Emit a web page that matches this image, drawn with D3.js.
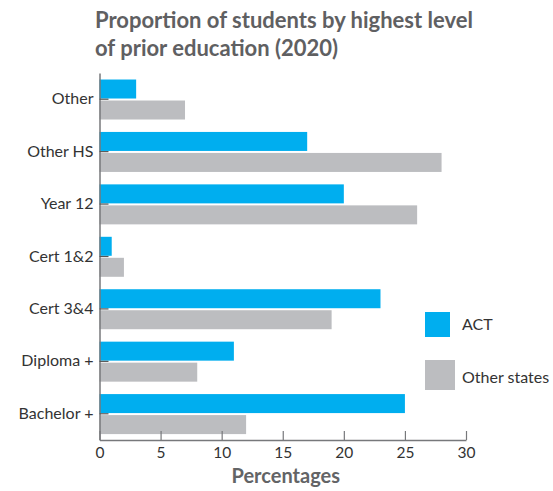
<!DOCTYPE html>
<html><head><meta charset="utf-8">
<script src="https://cdn.jsdelivr.net/npm/d3@7"></script>
<style>body{margin:0;background:#fff;} text{font-family:"Source Sans Pro","Lato","Noto Sans",sans-serif;}</style>
</head><body>
<svg id="c" width="553" height="491"></svg>
<script>
const categories = ["Other","Other HS","Year 12","Cert 1&2","Cert 3&4","Diploma +","Bachelor +"];
const actValues = [3,17,20,1,23,11,25];
const otherValues = [7,28,26,2,19,8,12];
const seriesNames = ["ACT","Other states"];
const xTicks = [0,5,10,15,20,25,30];

(function(){
const colors = {"ACT":"#00AEEF","Other states":"#BCBDC0"};
const svg = d3.select("#c");
const mLeft = 99.5, mRight = 466, mTop = 73, mBottom = 440;
const x = d3.scaleLinear().domain([0,30]).range([mLeft,mRight]);
const y = d3.scaleBand().domain(categories).range([mTop,mBottom]);
const barH = 19;

const data = categories.map((c,i)=>({c, act:actValues[i], oth:otherValues[i]}));

svg.append("g").selectAll("rect").data(data).join("rect")
  .attr("x", x(0)).attr("y", d=>y(d.c)+y.bandwidth()/2-barH-0.7)
  .attr("width", d=>x(d.act)-x(0)).attr("height", barH).attr("fill", colors["ACT"]);
svg.append("g").selectAll("rect").data(data).join("rect")
  .attr("x", x(0)).attr("y", d=>y(d.c)+y.bandwidth()/2+1.3)
  .attr("width", d=>x(d.oth)-x(0)).attr("height", barH).attr("fill", colors["Other states"]);

const axisColor = "#77787B";
const ff = '"Source Sans Pro","Lato","Noto Sans",sans-serif';
const gy = svg.append("g").attr("transform",`translate(${mLeft},0)`)
  .call(d3.axisLeft(y).tickSizeInner(-9).tickSizeOuter(0).tickPadding(6));
gy.select(".domain").attr("stroke",axisColor).attr("stroke-width",1.5);
gy.selectAll(".tick line").attr("stroke","#555").attr("stroke-width",1.2);
gy.selectAll(".tick text").attr("fill","#333").attr("font-size",16).style("font-family",ff);

const gx = svg.append("g").attr("transform",`translate(0,${mBottom})`)
  .call(d3.axisBottom(x).tickValues(xTicks).tickSizeInner(-9).tickSizeOuter(0).tickPadding(7));
gx.select(".domain").attr("stroke",axisColor).attr("stroke-width",1.5);
gx.selectAll(".tick line").attr("stroke",axisColor).attr("stroke-width",1.2);
gx.selectAll(".tick text").attr("fill","#333").attr("font-size",15.5).style("font-family",ff);

svg.append("text").attr("x",(mLeft+mRight)/2+3).attr("y",483).attr("text-anchor","middle")
  .attr("font-size",20).attr("font-weight",700).attr("fill","#636466").text("Percentages");

const title = svg.append("text").attr("font-size",22).attr("font-weight",700).attr("fill","#5F6062");
title.append("tspan").attr("x",95).attr("y",28).text("Proportion of students by highest level");
title.append("tspan").attr("x",95).attr("y",56).text("of prior education (2020)");

const legend = [
  {name:seriesNames[0], x:425, y:312, s:25, ty:330},
  {name:seriesNames[1], x:425, y:360, s:30, ty:383}
];
const lg = svg.append("g");
lg.selectAll("rect").data(legend).join("rect")
  .attr("x",d=>d.x).attr("y",d=>d.y).attr("width",d=>d.s).attr("height",d=>d.s)
  .attr("fill",d=>colors[d.name]);
lg.selectAll("text").data(legend).join("text")
  .attr("x",462).attr("y",d=>d.ty).attr("font-size",16).attr("fill","#333").text(d=>d.name);
})();
</script>
</body></html>
